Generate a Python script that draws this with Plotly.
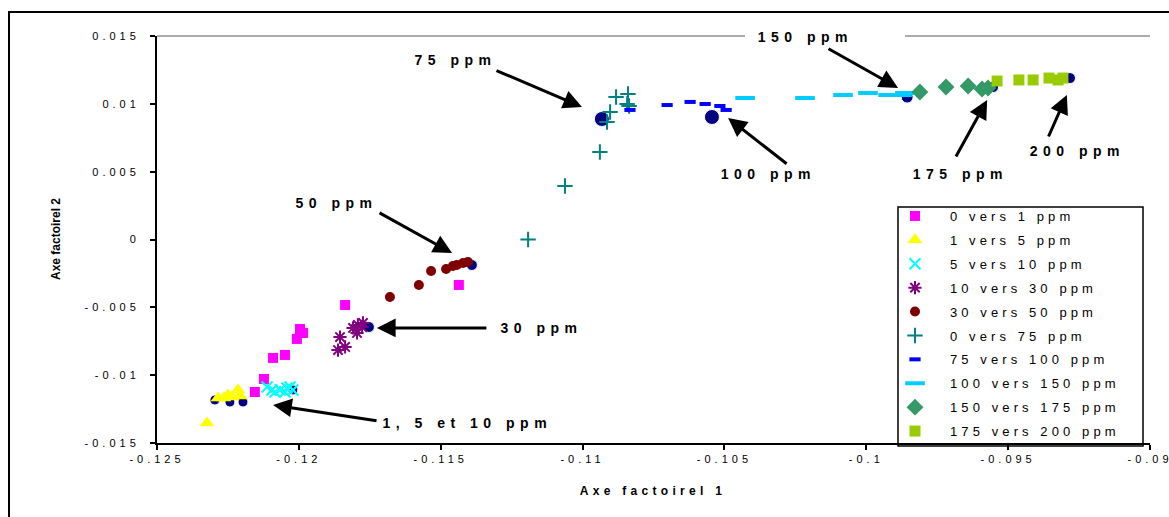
import plotly.graph_objects as go

# ---- data ----
series_names = ["0 vers 1 ppm", "1 vers 5 ppm", "5 vers 10 ppm", "10 vers 30 ppm",
                "30 vers 50 ppm", "0 vers 75 ppm", "75 vers 100 ppm",
                "100 vers 150 ppm", "150 vers 175 ppm", "175 vers 200 ppm"]

s0_x = [-0.11837, -0.11436, -0.11996, -0.11985, -0.12007, -0.12049, -0.12091, -0.12123, -0.12155]
s0_y = [-0.00483, -0.00335, -0.00660, -0.00689, -0.00733, -0.00851, -0.00873, -0.01028, -0.01124]

s1_x = [-0.12324, -0.12285, -0.12250, -0.12215, -0.12207, -0.12236, -0.12264]
s1_y = [-0.01353, -0.01168, -0.01146, -0.01109, -0.01154, -0.01161, -0.01168]

s2_x = [-0.12112, -0.12095, -0.12066, -0.12042, -0.12031, -0.12021, -0.12084, -0.12049]
s2_y = [-0.01087, -0.01109, -0.01109, -0.01095, -0.01087, -0.01109, -0.01124, -0.01124]

s3_x = [-0.11855, -0.11862, -0.11837, -0.11795, -0.11792, -0.11777, -0.11774, -0.11809]
s3_y = [-0.00719, -0.00815, -0.00792, -0.00689, -0.00630, -0.00645, -0.00615, -0.00652]

s4_x = [-0.11679, -0.11577, -0.11534, -0.11481, -0.11457, -0.11443, -0.11421, -0.11404]
s4_y = [-0.00424, -0.00335, -0.00232, -0.00217, -0.00195, -0.00188, -0.00173, -0.00166]

s5_x = [-0.11192, -0.11062, -0.10939, -0.10914, -0.10903, -0.10882, -0.10840, -0.10843, -0.10836]
s5_y = [0.00000, 0.00394, 0.00645, 0.00866, 0.00940, 0.01050, 0.01072, 0.00999, 0.00984]

s6_x = [-0.10833, -0.10702, -0.10621, -0.10568, -0.10516, -0.10494]
s6_y = [0.00955, 0.00991, 0.01014, 0.00999, 0.00984, 0.00955]

s7_x = [-0.10427, -0.10216, -0.10082, -0.09994, -0.09923, -0.09864, -0.09874]
s7_y = [0.01043, 0.01043, 0.01065, 0.01080, 0.01065, 0.01080, 0.01065]

s8_x = [-0.09811, -0.09719, -0.09641, -0.09592, -0.09571]
s8_y = [0.01087, 0.01124, 0.01131, 0.01109, 0.01117]

s9_x = [-0.09539, -0.09462, -0.09412, -0.09356, -0.09324, -0.09307]
s9_y = [0.01168, 0.01176, 0.01176, 0.01190, 0.01176, 0.01190]

# centroid blobs (no legend entry)
navy_x = [-0.12296, -0.12243, -0.12197, -0.12021, -0.11753, -0.11390, -0.10932, -0.10544, -0.09856, -0.09553, -0.09282]
navy_y = [-0.01183, -0.01198, -0.01198, -0.01109, -0.00645, -0.00188, 0.00888, 0.00903, 0.01050, 0.01124, 0.01190]

x_tickvals = [-0.125, -0.12, -0.115, -0.11, -0.105, -0.1, -0.095, -0.09]
x_ticktext = ["-0.125", "-0.12", "-0.115", "-0.11", "-0.105", "-0.1", "-0.095", "-0.09"]
y_tickvals = [-0.015, -0.01, -0.005, 0, 0.005, 0.01, 0.015]
y_ticktext = ["-0.015", "-0.01", "-0.005", "0", "0.005", "0.01", "0.015"]

# annotation labels and their arrow targets (data) + arrow tail offsets (px)
ann_texts = ["75 ppm", "150 ppm", "100 ppm", "200 ppm", "175 ppm", "50 ppm", "30 ppm", "1, 5 et 10 ppm"]
ann_text_px = [(455, 60), (805, 37), (768, 174), (1077, 151), (960, 174), (336, 203), (541, 328), (467, 423)]
arrow_tip_x = [-0.11002, -0.09888, -0.10487, -0.09293, -0.09574, -0.11460, -0.11725, -0.12091]
arrow_tip_y = [0.00977, 0.01117, 0.00896, 0.01065, 0.01028, -0.00100, -0.00652, -0.01220]
arrow_tail_dx = [-87, -71, 60, -19, -32, -74, 111, 105]
arrow_tail_dy = [-37, -40, 47, 43, 58, -41, 0, 16]

FONT = "Arial, 'Liberation Sans', sans-serif"

# ---- plot-area geometry in pixels (for paper conversion of decorations) ----
W, H = 1169, 517
L, R, T, B = 157, 1150, 36, 443


def px_to_paper(px, py):
    return (px - L) / (R - L), (B - py) / (B - T)


styles = [
    dict(symbol="square", color="#FF00FF", size=10),
    dict(symbol="triangle-up", color="#FFFF00", size=13),
    dict(symbol="x-thin-open", color="#00FFFF", size=11, line=dict(width=2, color="#00FFFF")),
    dict(symbol="asterisk-open", color="#800080", size=11, line=dict(width=2, color="#800080")),
    dict(symbol="circle", color="#800000", size=10),
    dict(symbol="cross-thin-open", color="#008080", size=11, line=dict(width=2, color="#008080")),
    dict(symbol="line-ew-open", color="#0000FF", size=8, line=dict(width=4, color="#0000FF")),
    dict(symbol="line-ew-open", color="#00CCFF", size=14, line=dict(width=4, color="#00CCFF")),
    dict(symbol="diamond", color="#339966", size=13),
    dict(symbol="square", color="#99CC00", size=11),
]
navy_marker_sizes = [10, 10, 10, 10, 11, 11, 15, 15, 12, 11, 11]

xs = [s0_x, s1_x, s2_x, s3_x, s4_x, s5_x, s6_x, s7_x, s8_x, s9_x]
ys = [s0_y, s1_y, s2_y, s3_y, s4_y, s5_y, s6_y, s7_y, s8_y, s9_y]

fig = go.Figure()
fig.add_trace(go.Scatter(x=navy_x, y=navy_y, mode="markers", showlegend=False,
                         marker=dict(symbol="circle", color="#000080", opacity=1,
                                     size=navy_marker_sizes)))
for i, name in enumerate(series_names):
    fig.add_trace(go.Scatter(x=xs[i], y=ys[i], mode="markers", name=name,
                             legendgroup=str(i), marker=styles[i]))

annotations = []
for i, t in enumerate(ann_texts):
    annotations.append(dict(x=arrow_tip_x[i], y=arrow_tip_y[i], xref="x", yref="y",
                            text="", showarrow=True, ax=arrow_tail_dx[i], ay=arrow_tail_dy[i],
                            arrowhead=2, arrowsize=1.25, arrowwidth=3, arrowcolor="black",
                            standoff=0, startstandoff=0))
    px, py = px_to_paper(*ann_text_px[i])
    annotations.append(dict(x=px, y=py, xref="paper", yref="paper", text=t, showarrow=False,
                            xanchor="center", yanchor="middle",
                            font=dict(family=FONT, size=14, color="black", weight="bold")))
# axis titles
ax1x, ax1y = px_to_paper(653, 491)
annotations.append(dict(x=ax1x, y=ax1y, xref="paper", yref="paper", text="Axe factoirel 1",
                        showarrow=False, xanchor="center", yanchor="middle",
                        font=dict(family=FONT, size=12, color="black", weight="bold")))
ax2x, ax2y = px_to_paper(56, 239)
annotations.append(dict(x=ax2x, y=ax2y, xref="paper", yref="paper", text="Axe factoirel 2",
                        showarrow=False, xanchor="center", yanchor="middle", textangle=-90,
                        font=dict(family=FONT, size=12, color="black", weight="bold")))

shapes = []
# outer chart frame
fx0, fy1 = px_to_paper(9, 12)
fx1, fy0 = px_to_paper(1190, 540)
shapes.append(dict(type="rect", xref="paper", yref="paper", x0=fx0, x1=fx1, y0=fy0, y1=fy1,
                   line=dict(color="black", width=2)))
# grey top border of the plot area (interrupted behind the "150 ppm" label)
gx_a, _ = px_to_paper(745, 36)
gx_b, _ = px_to_paper(905, 36)
shapes.append(dict(type="line", xref="paper", yref="paper", x0=0, x1=gx_a, y0=1, y1=1,
                   line=dict(color="#909090", width=1.5)))
shapes.append(dict(type="line", xref="paper", yref="paper", x0=gx_b, x1=1, y0=1, y1=1,
                   line=dict(color="#909090", width=1.5)))
# legend box
lx0, ly1 = px_to_paper(898, 207)
lx1, ly0 = px_to_paper(1143, 446)
shapes.append(dict(type="rect", xref="paper", yref="paper", x0=lx0, x1=lx1, y0=ly0, y1=ly1,
                   line=dict(color="black", width=1.5)))

legx, legy = px_to_paper(880, 201)

fig.update_layout(
    width=W, height=H,
    margin=dict(l=L, r=W - R, t=T, b=H - B, pad=0),
    paper_bgcolor="white", plot_bgcolor="white",
    font=dict(family=FONT, size=12, color="black"),
    xaxis=dict(range=[-0.125, -0.09], tickvals=x_tickvals, ticktext=x_ticktext,
               showgrid=False, zeroline=False, showline=True, linecolor="black", linewidth=2,
               ticks="outside", ticklen=5, tickwidth=1.5, tickcolor="black",
               tickfont=dict(family=FONT, size=11), automargin=False),
    yaxis=dict(range=[-0.015, 0.015], tickvals=y_tickvals, ticktext=y_ticktext,
               showgrid=False, zeroline=False, showline=True, linecolor="black", linewidth=2,
               ticks="outside", ticklen=5, tickwidth=1.5, tickcolor="black",
               tickfont=dict(family=FONT, size=11), automargin=False, ticklabelstandoff=8),
    legend=dict(x=legx, y=legy, xanchor="left", yanchor="top", bgcolor="rgba(0,0,0,0)",
                borderwidth=0, font=dict(family=FONT, size=13), tracegroupgap=4,
                itemwidth=60),
    showlegend=True,
    annotations=annotations,
    shapes=shapes,
)

post = """
document.body.style.margin = '0';
document.body.style.padding = '0';
var gd = document.getElementById('{plot_id}');
function spaceText(){
  function s(sel, v){ gd.querySelectorAll(sel).forEach(function(e){ e.style.letterSpacing = v; }); }
  s('.xtick text', '4px');
  s('.ytick text', '4px');
  s('.legendtext', '4.1px');
  gd.querySelectorAll('.legend .scrollbox').forEach(function(e){ e.removeAttribute('clip-path'); });
  gd.querySelectorAll('.legend').forEach(function(e){ e.removeAttribute('clip-path'); });
  gd.querySelectorAll('.annotation-text').forEach(function(e){
    var t = e.textContent;
    if (t === 'Axe factoirel 2') { return; }
    if (t === 'Axe factoirel 1') { e.style.letterSpacing = '4.3px'; return; }
    e.style.letterSpacing = '5.5px';
  });
}
spaceText();
gd.on('plotly_afterplot', spaceText);
"""

fig.write_html("out.html", post_script=post, config={"displayModeBar": False})
